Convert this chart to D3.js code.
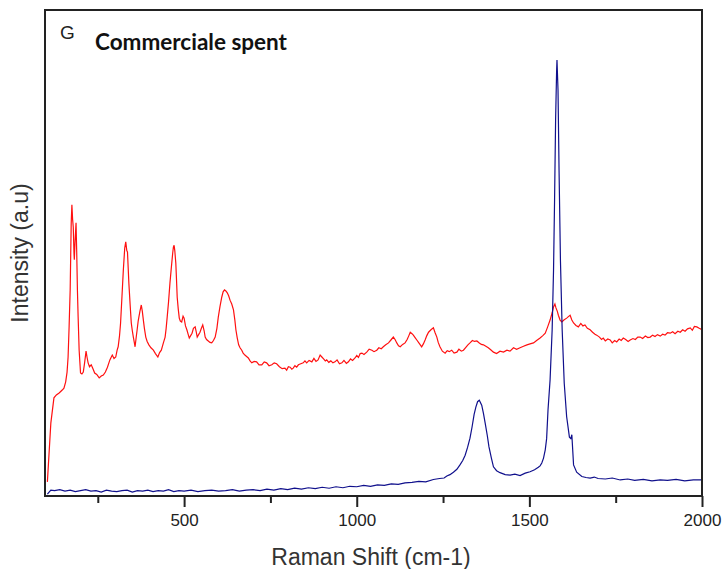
<!DOCTYPE html>
<html>
<head>
<meta charset="utf-8">
<script src="https://cdn.jsdelivr.net/npm/d3@7"></script>
<style>
  body { margin: 0; background: #fff; }
  svg { display: block; }
</style>
</head>
<body>
<div id="chart"></div>
<script>
// Raman spectra (arbitrary intensity units)
const redShift = [104,114,123,130,138,147,152,157,161,164,167,170,173,175,177,179,181,182,184,187,189,191,193,196,200,204,208,212,216,219,222,226,231,236,241,247,254,260,266,272,278,285,292,297,302,306,309,313,316,320,324,328,331,334,336,338,340,344,347,350,353,356,358,361,364,367,369,372,376,379,382,385,389,393,398,404,411,417,424,429,434,440,445,448,451,455,459,463,467,469,471,473,476,478,480,483,486,489,493,497,500,504,508,512,515,519,523,527,532,535,538,542,546,550,554,558,561,565,570,575,580,585,590,595,599,604,609,613,617,621,625,629,633,638,643,647,650,654,658,662,667,671,676,681,686,691,696,703,710,717,725,732,739,746,754,761,768,776,784,792,797,802,807,812,816,821,826,831,838,845,850,855,862,870,876,882,888,894,899,904,909,913,919,925,931,937,943,950,957,963,970,976,982,988,995,1000,1005,1010,1015,1021,1029,1036,1044,1050,1058,1064,1071,1077,1084,1092,1099,1106,1111,1116,1121,1126,1133,1140,1146,1151,1155,1160,1164,1169,1174,1181,1188,1193,1198,1203,1208,1215,1222,1227,1232,1236,1241,1248,1256,1262,1268,1275,1282,1290,1296,1303,1309,1316,1322,1328,1335,1341,1348,1355,1361,1367,1374,1381,1388,1396,1405,1415,1425,1435,1444,1454,1463,1473,1483,1493,1502,1512,1521,1531,1539,1546,1553,1560,1566,1570,1574,1577,1581,1584,1589,1594,1600,1608,1613,1618,1623,1628,1635,1642,1649,1655,1661,1668,1676,1683,1690,1695,1703,1709,1714,1720,1727,1734,1740,1747,1753,1760,1766,1772,1779,1786,1792,1800,1807,1814,1821,1828,1836,1843,1850,1857,1864,1871,1879,1886,1893,1900,1908,1915,1922,1930,1937,1944,1951,1958,1966,1972,1978,1985,1992,2000];
const redIntensity = [29,150,202,208,212,218,222,235,255,286,350,424,560,599,570,553,500,486,520,562,500,424,370,300,253,251,255,275,298,285,274,266,270,262,253,250,243,247,249,255,265,280,290,283,286,300,307,330,356,410,465,510,523,505,502,470,438,390,356,340,327,315,307,325,342,360,368,380,393,380,362,345,327,318,311,305,300,293,286,295,300,315,327,345,368,400,438,470,500,512,516,505,479,445,409,385,366,360,358,370,366,350,342,332,325,330,335,345,348,338,327,332,337,345,352,340,327,322,319,316,315,320,327,345,368,390,409,420,424,422,418,412,403,395,383,362,342,325,311,305,300,294,290,287,284,278,274,277,276,270,270,276,274,268,270,274,272,266,262,263,259,266,265,261,263,268,265,270,272,274,278,274,279,276,283,277,280,290,286,282,278,280,275,278,274,276,280,272,274,279,273,276,282,279,284,289,285,293,294,291,296,302,300,297,300,305,303,307,311,315,321,327,322,315,309,307,312,315,322,330,337,334,331,326,321,314,307,313,321,330,337,342,346,336,327,316,307,298,294,299,297,300,294,296,302,298,300,306,311,315,320,318,319,315,312,311,308,305,301,296,293,298,296,300,298,305,302,305,308,311,313,315,320,325,330,335,348,362,377,389,395,387,380,372,362,358,362,366,369,372,362,356,351,348,355,350,352,345,342,337,333,331,327,322,325,319,323,321,315,320,317,323,320,325,322,318,321,324,322,327,327,324,329,326,327,331,328,332,329,333,331,336,335,338,334,339,337,342,339,344,346,341,349,348,345,342];

const blueShift = [104,114,125,140,155,170,185,200,215,230,245,260,275,290,305,320,335,350,365,380,395,410,425,440,455,470,485,500,520,540,560,580,600,620,640,660,680,700,720,740,760,780,800,820,840,860,880,900,920,940,960,980,1000,1020,1040,1060,1080,1100,1120,1140,1160,1180,1200,1222,1240,1253,1261,1270,1280,1290,1299,1307,1314,1321,1328,1334,1340,1345,1350,1355,1362,1367,1372,1378,1383,1390,1396,1405,1415,1430,1444,1458,1473,1488,1502,1515,1526,1531,1536,1541,1546,1550,1554,1560,1566,1570,1573,1576,1579,1580,1583,1586,1590,1595,1601,1608,1616,1620,1623,1628,1637,1652,1664,1676,1688,1699,1720,1740,1763,1785,1805,1830,1855,1879,1900,1925,1950,1975,2000];
const blueIntensity = [4,12,11,13,10,12,9,11,13,10,11,8,12,10,9,11,12,8,11,10,12,9,11,10,13,9,11,10,12,9,11,12,10,11,13,10,12,13,11,14,12,15,13,16,14,17,15,18,16,19,17,20,19,22,20,23,22,25,24,27,28,30,29,34,36,37,41,44,49,55,64,73,84,100,119,142,168,183,194,197,187,170,150,125,101,78,60,52,48,44,43,45,42,47,50,54,59,62,68,78,95,118,177,239,342,465,609,774,877,897,835,669,485,342,232,163,121,118,126,64,49,40,38,37,39,36,35,37,33,35,32,34,31,33,32,34,31,33,33];

const xTicksMajor = [500, 1000, 1500, 2000];
const xTicksMinor = [250, 750, 1250, 1750];

const width = 726, height = 569;
const plot = { left: 46, right: 702, top: 10, bottom: 496 };

const svg = d3.select("#chart").append("svg")
  .attr("width", width)
  .attr("height", height);

const x = d3.scaleLinear().domain([100, 2000]).range([plot.left, plot.right]);
const y = d3.scaleLinear().domain([0, 1000]).range([plot.bottom, plot.top]);

svg.append("clipPath").attr("id", "clip")
  .append("rect")
  .attr("x", plot.left).attr("y", plot.top)
  .attr("width", plot.right - plot.left).attr("height", plot.bottom - plot.top);

const line = d3.line().x(d => x(d[0])).y(d => y(d[1]));

const red = d3.zip(redShift, redIntensity);
const blue = d3.zip(blueShift, blueIntensity);

const g = svg.append("g").attr("clip-path", "url(#clip)");

g.append("path").datum(red)
  .attr("d", line)
  .attr("fill", "none")
  .attr("stroke", "#ff1010")
  .attr("stroke-width", 1.2);

g.append("path").datum(blue)
  .attr("d", line)
  .attr("fill", "none")
  .attr("stroke", "#10108c")
  .attr("stroke-width", 1.2);

// frame
svg.append("rect")
  .attr("x", plot.left - 1).attr("y", plot.top)
  .attr("width", plot.right - plot.left + 1).attr("height", plot.bottom - plot.top)
  .attr("fill", "none")
  .attr("stroke", "#222")
  .attr("stroke-width", 2);

// bottom axis: major ticks with labels, minor ticks without
const axisMajor = svg.append("g")
  .attr("transform", `translate(0,${plot.bottom})`)
  .call(d3.axisBottom(x).tickValues(xTicksMajor).tickSize(11).tickPadding(7).tickFormat(d3.format("d")));
axisMajor.select(".domain").remove();
axisMajor.selectAll("line").attr("stroke", "#222").attr("stroke-width", 2);
axisMajor.selectAll("text")
  .attr("font-family", "'Liberation Sans', Arial, sans-serif")
  .attr("font-size", 17)
  .attr("fill", "#222");

const axisMinor = svg.append("g")
  .attr("transform", `translate(0,${plot.bottom})`)
  .call(d3.axisBottom(x).tickValues(xTicksMinor).tickSize(7).tickFormat(""));
axisMinor.select(".domain").remove();
axisMinor.selectAll("line").attr("stroke", "#222").attr("stroke-width", 2);

// labels
svg.append("text")
  .attr("x", 371).attr("y", 565)
  .attr("text-anchor", "middle")
  .attr("font-family", "'Liberation Sans', Arial, sans-serif")
  .attr("font-size", 23)
  .attr("fill", "#333")
  .text("Raman Shift (cm-1)");

svg.append("text")
  .attr("transform", "translate(28,253) rotate(-90)")
  .attr("text-anchor", "middle")
  .attr("font-family", "'Liberation Sans', Arial, sans-serif")
  .attr("font-size", 23)
  .attr("fill", "#333")
  .text("Intensity (a.u)");

svg.append("text")
  .attr("x", 60).attr("y", 39)
  .attr("font-family", "'Liberation Sans', Arial, sans-serif")
  .attr("font-size", 19)
  .attr("fill", "#222")
  .text("G");

svg.append("text")
  .attr("x", 95).attr("y", 50)
  .attr("font-family", "Lato, 'Open Sans', sans-serif")
  .attr("font-weight", "bold")
  .attr("font-size", 22.5)
  .attr("fill", "#111")
  .text("Commerciale spent");
</script>
</body>
</html>
